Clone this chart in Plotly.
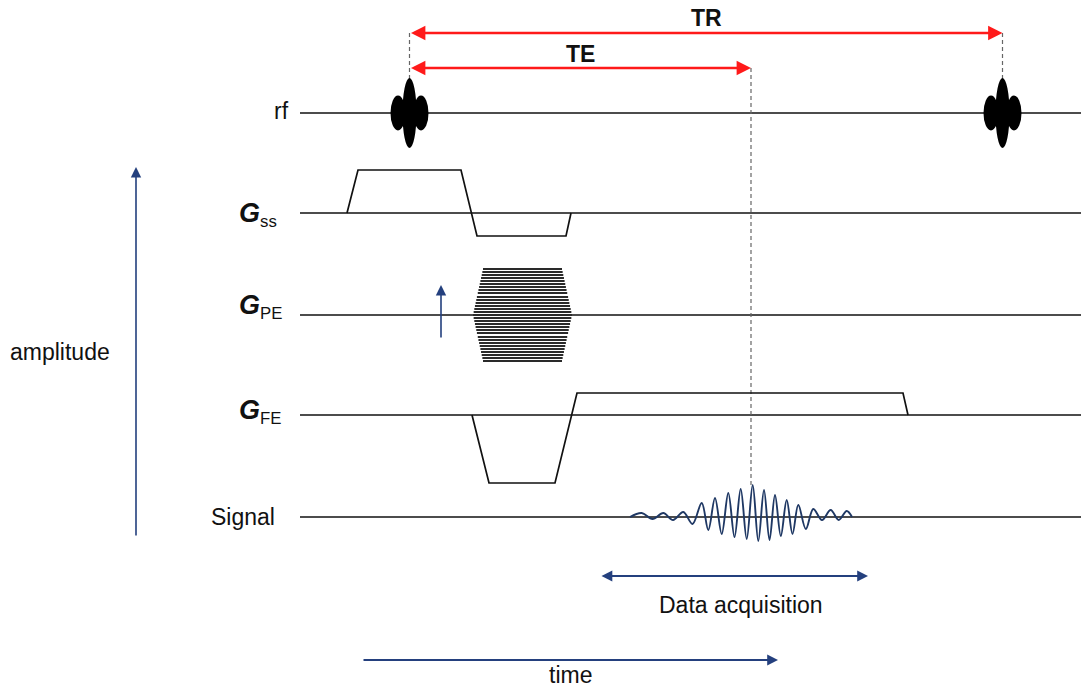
import plotly.graph_objects as go

# ---------------- data (time in arbitrary units, amplitudes relative to each row baseline, positive = up)
row_names = ["rf", "Gss", "GPE", "GFE", "Signal"]
G = "<span style='font-size:27px'><b><i>G</i></b></span>"
row_labels = ["rf",
              G + "<sub>ss</sub>",
              G + "<sub>PE</sub>",
              G + "<sub>FE</sub>",
              "Signal"]

rf_times = [409.5, 1002.5]            # centres of the two excitation pulses
rf_lobe_offset = [-11.5, 0.0, 11.5]   # sinc-like pulse lobes
rf_lobe_amp = [17.5, 35.0, 17.5]

gss_t = [347, 358, 461, 477, 566, 571]
gss_a = [0, 43, 43, -23, -23, 0]

gpe_t = [473, 483, 562, 572]          # ramp-up start, plateau start, plateau end, ramp-down end
gpe_levels = [46, 43, 40, 37, 34, 31, 28, 25, 22, 18, 15, 12, 9, 6, 3, 0,
              -3, -6, -9, -12, -15, -18, -22, -25, -28, -31, -34, -37, -40, -43, -46]

gfe_t = [472, 489, 555, 577, 903, 908]
gfe_a = [0, -68, -68, 22, 22, 0]

sig_t = [630, 641.7, 652.5, 663.3, 673, 683.3, 692.5, 701.7, 708.3, 715, 721.7, 728.3,
         734.5, 740.7, 746.7, 752.7, 758.3, 764, 769.5, 775, 780.8, 786.7, 792.5,
         798.3, 805.8, 813.3, 822, 830.7, 838.7, 846.7, 852]
sig_a = [0, 4, -2, 4, -3, 5, -7, 14, -13, 19, -17, 24, -20, 28, -22, 32, -24, 27,
         -23, 22, -19, 17, -17, 12, -12, 8, -3, 7, -3, 6, 0]

TE_time = 751
TR_time = 1002.5
acq_window = [600, 868]
time_arrow = [362, 778]

# ---------------- layout constants (pixel-like canvas)
W, H = 1081, 691
ROW_Y = {"rf": 113, "Gss": 213, "GPE": 315, "GFE": 415, "Signal": 517}
LABEL_POS = {"rf": (291, 111), "Gss": (279, 214), "GPE": (284, 306),
             "GFE": (283, 411), "Signal": (277, 517)}
LINE_X0, LINE_X1 = 300, 1081
FONT = "Liberation Sans, Arial, sans-serif"
NAVY = "#24407e"
RED = "#ff1a1a"

fig = go.Figure()

def line(xs, ys, color="#111111", width=1.5, dash=None, shape="linear"):
    fig.add_trace(go.Scatter(x=xs, y=ys, mode="lines",
                             line=dict(color=color, width=width, dash=dash, shape=shape),
                             hoverinfo="skip", showlegend=False))

# baselines
for r in row_names:
    line([LINE_X0, LINE_X1], [ROW_Y[r], ROW_Y[r]], width=1.4)

# dashed guide lines
line([rf_times[0], rf_times[0]], [33, 80], color="#666666", width=1.2, dash="4px,3px")
line([TR_time, TR_time], [33, 80], color="#666666", width=1.2, dash="4px,3px")
line([TE_time, TE_time], [68, 488], color="#666666", width=1.2, dash="4px,3px")

# slice-select gradient
line(gss_t, [ROW_Y["Gss"] - a for a in gss_a], width=1.7)

# phase-encoding table
gmax = max(abs(v) for v in gpe_levels)
ramp = gpe_t[1] - gpe_t[0]
for lv in gpe_levels:
    frac = abs(lv) / gmax
    xa = gpe_t[0] + ramp * frac
    xb = gpe_t[3] - ramp * frac
    line([xa, xb], [ROW_Y["GPE"] - lv, ROW_Y["GPE"] - lv], color="#2a2a2a", width=2.0)

# frequency-encoding gradient
line(gfe_t, [ROW_Y["GFE"] - a for a in gfe_a], width=1.7)

# echo signal
line(sig_t, [ROW_Y["Signal"] - a for a in sig_a], color="#1f3864", width=1.9, shape="spline")

# rf pulses (three filled lobes each)
shapes = []
for t in rf_times:
    for off, amp in zip(rf_lobe_offset, rf_lobe_amp):
        hw = 7.0 if off == 0 else 7.5
        shapes.append(dict(type="circle", xref="x", yref="y",
                           x0=t + off - hw, x1=t + off + hw,
                           y0=ROW_Y["rf"] - amp, y1=ROW_Y["rf"] + amp,
                           fillcolor="black", line=dict(width=0), layer="above"))

annotations = []

def arrow(x0, y0, x1, y1, color, width, both=False, size=1.0):
    annotations.append(dict(x=x1, y=y1, ax=x0, ay=y0, xref="x", yref="y",
                            axref="x", ayref="y", text="", showarrow=True,
                            arrowhead=2, arrowsize=size, arrowwidth=width,
                            arrowcolor=color, standoff=0, startstandoff=0,
                            startarrowhead=2, startarrowsize=size,
                            arrowside="end+start" if both else "end"))

def text(x, y, s, size=23, anchor="center", yanchor="middle"):
    annotations.append(dict(x=x, y=y, xref="x", yref="y", text=s, showarrow=False,
                            xanchor=anchor, yanchor=yanchor,
                            font=dict(family=FONT, size=size, color="#111111")))

# TR / TE arrows
arrow(rf_times[0], 33, TR_time, 33, RED, 2.4, both=True, size=1.2)
arrow(rf_times[0], 68, TE_time, 68, RED, 2.4, both=True, size=1.2)
text((rf_times[0] + TR_time) / 2, 18, "<b>TR</b>")
text(580, 54, "<b>TE</b>")

# amplitude / PE / acquisition / time arrows
arrow(136, 537, 136, 167, NAVY, 1.6, size=1.3)
arrow(441, 339, 441, 285, NAVY, 1.6, size=1.3)
arrow(acq_window[0], 576, acq_window[1], 576, NAVY, 1.8, both=True, size=1.2)
arrow(time_arrow[0], 660, time_arrow[1], 660, NAVY, 1.8, size=1.2)

text(741, 605, "Data acquisition")
text(570, 690, "time", yanchor="bottom")
text(60, 352, "amplitude")

for r, lab in zip(row_names, row_labels):
    x, y = LABEL_POS[r]
    text(x, y, lab, size=24 if r.startswith("G") else 23, anchor="right")

fig.update_layout(
    width=W, height=H, margin=dict(l=0, r=0, t=0, b=0),
    paper_bgcolor="white", plot_bgcolor="white",
    xaxis=dict(range=[0, W], visible=False, fixedrange=True),
    yaxis=dict(range=[H, 0], visible=False, fixedrange=True),
    shapes=shapes, annotations=annotations, showlegend=False,
)

fig.write_html("out.html")
